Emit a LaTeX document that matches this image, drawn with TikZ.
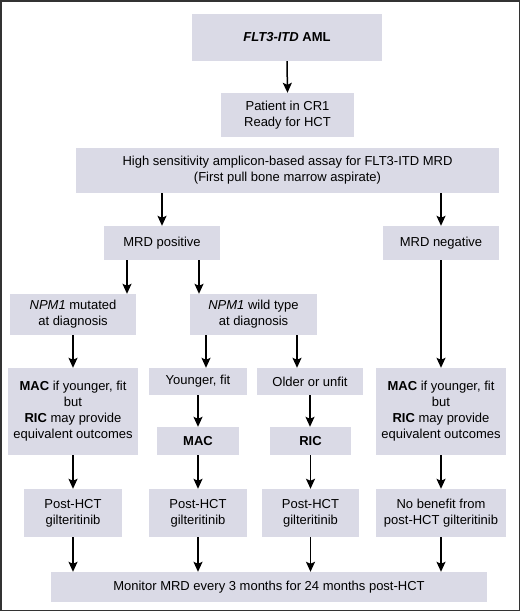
\documentclass[tikz,border=0pt]{standalone}
\usepackage{fontspec}
\setmainfont{Liberation Sans}
\setsansfont{Liberation Sans}
\usetikzlibrary{arrows.meta,positioning,calc}
\usepackage{xcolor}
\definecolor{Lavender}{HTML}{DADAE6}
\definecolor{Frame}{HTML}{333333}

\begin{document}
\begin{tikzpicture}[
        %Environment Cfg.
        x=1pt, y=-1pt,
        font=\sffamily\fontsize{13}{16}\selectfont,
        >={Stealth[length=10pt,width=9pt,inset=2pt]},%from arrows.meta
        %Environment Styles.
        fBox/.style={
            rectangle,
            inner sep=0pt,
            fill=Lavender,
            align=center
        },
        fArr/.style={
            ->,
            line width=1.5pt
        },
    ]
    \useasboundingbox (0,0) rectangle (520,611);
    \draw[Frame, line width=1.5pt] (0.75,0.75) rectangle (519.25,610.25);

    %Top of the chart
    \node[fBox, minimum width=190, minimum height=47] (AML) at (287,37.5)
        {\textbf{\textit{FLT3-ITD} AML}};
    \node[fBox, minimum width=133, minimum height=44] (CR) at (287.5,115)
        {Patient in CR1\\Ready for HCT};
    \node[fBox, minimum width=423, minimum height=45] (ASSAY) at (287.5,170.5)
        {High sensitivity amplicon-based assay for FLT3-ITD MRD\\(First pull bone marrow aspirate)};

    %MRD result
    \node[fBox, minimum width=116, minimum height=34] (POS) at (162,243) {MRD positive};
    \node[fBox, minimum width=116, minimum height=34] (NEG) at (441,243) {MRD negative};

    %NPM1 status
    \node[fBox, minimum width=126, minimum height=41] (MUT) at (73,314.5)
        {\textit{NPM1} mutated\\at diagnosis};
    \node[fBox, minimum width=127, minimum height=41] (WT) at (253.5,314.5)
        {\textit{NPM1} wild type\\at diagnosis};

    %Conditioning
    \node[fBox, minimum width=130, minimum height=87] (MAC-L) at (73,411.5)
        {\textbf{MAC} if younger, fit\\but\\\textbf{RIC} may provide\\equivalent outcomes};
    \node[fBox, minimum width=98, minimum height=27] (YNG) at (198,381.5) {Younger, fit};
    \node[fBox, minimum width=106, minimum height=27] (OLD) at (310,381.5) {Older or unfit};
    \node[fBox, minimum width=130, minimum height=87] (MAC-R) at (441,411.5)
        {\textbf{MAC} if younger, fit\\but\\\textbf{RIC} may provide\\equivalent outcomes};
    \node[fBox, minimum width=82, minimum height=28] (MAC) at (198,441) {\textbf{MAC}};
    \node[fBox, minimum width=81, minimum height=28] (RIC) at (310.5,441) {\textbf{RIC}};

    %Maintenance
    \node[fBox, minimum width=98, minimum height=48] (POST-1) at (73,513) {Post-HCT\\gilteritinib};
    \node[fBox, minimum width=98, minimum height=48] (POST-2) at (198,513) {Post-HCT\\gilteritinib};
    \node[fBox, minimum width=97, minimum height=48] (POST-3) at (310.5,513) {Post-HCT\\gilteritinib};
    \node[fBox, minimum width=130, minimum height=48] (POST-4) at (441,513)
        {No benefit from\\post-HCT gilteritinib};

    \node[fBox, minimum width=436, minimum height=30] (MON) at (269,587)
        {Monitor MRD every 3 months for 24 months post-HCT};

    %Arrows
    \draw[fArr] (AML.south) -- (CR.north);
    \draw[fArr] (ASSAY.south -| POS.north) -- (POS.north);
    \draw[fArr] (ASSAY.south -| NEG.north) -- (NEG.north);
    \draw[fArr] ([xshift=-35]POS.south) -- ([xshift=-35]POS.south |- MUT.north);
    \draw[fArr] ([xshift=37]POS.south) -- ([xshift=37]POS.south |- WT.north);
    \draw[fArr] (MUT.south) -- (MAC-L.north);
    \draw[fArr] ([xshift=-47.5]WT.south) -- ([xshift=-47.5]WT.south |- YNG.north);
    \draw[fArr] ([xshift=43.5]WT.south) -- ([xshift=43.5]WT.south |- OLD.north);
    \draw[fArr] (NEG.south) -- (MAC-R.north);
    \draw[fArr] (YNG.south) -- (MAC.north);
    \draw[fArr] (OLD.south) -- (OLD.south |- RIC.north);
    \draw[fArr] (MAC-L.south) -- (POST-1.north);
    \draw[fArr] (MAC.south) -- (POST-2.north);
    \draw[fArr] (RIC.south) -- (POST-3.north);
    \draw[fArr] (MAC-R.south) -- (POST-4.north);
    \foreach \i in {1,...,4}
        \draw[fArr] (POST-\i.south) -- (POST-\i.south |- MON.north);

\end{tikzpicture}
\end{document}
